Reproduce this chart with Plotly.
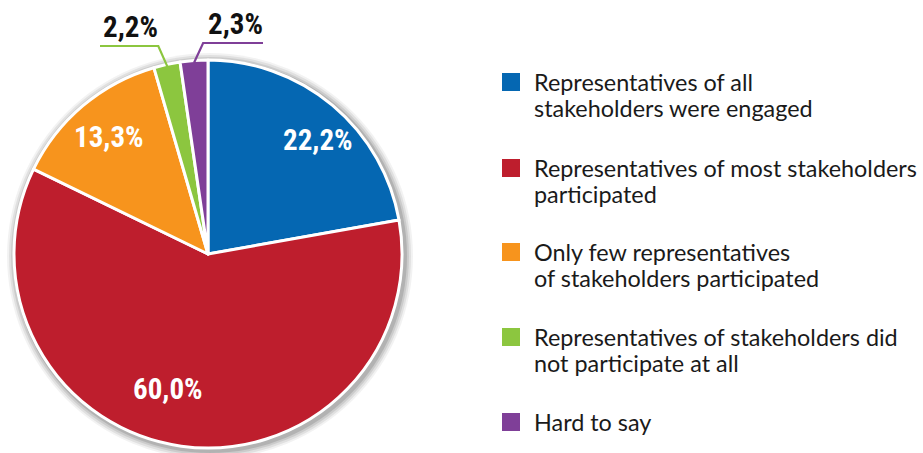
import math
import plotly.graph_objects as go

# Survey answers and their shares (%)
categories = [
    ["Representatives of all", "stakeholders were engaged"],
    ["Representatives of most stakeholders", "participated"],
    ["Only few representatives", "of stakeholders participated"],
    ["Representatives of stakeholders did", "not participate at all"],
    ["Hard to say"],
]
shares = [22.2, 60.0, 13.3, 2.2, 2.3]
colors = ["#0567B2", "#BE1E2D", "#F7941D", "#8CC63F", "#7F3F98"]

W, H = 923, 453
CX, CY, R = 208, 254, 194          # pie centre and radius in pixels


def px(x):
    return x / W


def py(y):
    return 1 - y / H


fig = go.Figure()

fig.add_trace(go.Pie(
    values=shares,
    labels=[" ".join(c) for c in categories],
    marker=dict(colors=colors, line=dict(color="white", width=3)),
    sort=False,
    direction="clockwise",
    rotation=0,
    textinfo="none",
    hoverinfo="label+percent",
    showlegend=False,
    domain=dict(x=[px(CX - R), px(CX + R)], y=[py(CY + R), py(CY - R)]),
))

# soft drop shadow around the pie
shapes = []
for grow, alpha in [(9, 0.05), (7, 0.07), (5, 0.09), (3, 0.12)]:
    shapes.append(dict(
        type="circle", xref="paper", yref="paper", layer="below",
        x0=px(CX - R - grow + 2), x1=px(CX + R + grow + 2),
        y0=py(CY + R + grow + 2), y1=py(CY - R - grow + 2),
        fillcolor=f"rgba(0,0,0,{alpha})", line=dict(width=0),
    ))

# cumulative mid-angles (degrees clockwise from 12 o'clock)
mids = []
acc = 0.0
for v in shares:
    mids.append((acc + v / 2) / 100 * 360)
    acc += v


def polar(angle_deg, dist):
    a = math.radians(angle_deg)
    return CX + dist * math.sin(a), CY - dist * math.cos(a)


def fmt(v):
    return f"{v:.1f}".replace(".", ",") + "%"


annotations = []
pct_font = "Liberation Sans Narrow, Arial Narrow, Roboto Condensed, sans-serif"
pct_size = 29

# labels inside the larger slices: (slice index, angle offset, radial distance)
inside = [(0, 4, 158), (1, 8.5, 141), (2, 0, 153)]
for idx, dang, dist in inside:
    x, y = polar(mids[idx] + dang, dist)
    annotations.append(dict(
        x=px(x), y=py(y), xref="paper", yref="paper", showarrow=False,
        text=f"<b>{fmt(shares[idx])}</b>", xanchor="center", yanchor="middle",
        font=dict(family=pct_font, size=pct_size, color="white"),
    ))

# small slices get outside labels with elbow leader lines
outside = [(3, -1, 46, 100, 130), (4, 1, 43, 263, 235)]
for idx, side, ely, endx, labx in outside:
    sx, sy = polar(mids[idx], R - 2)
    ex = sx + side * 9
    xs = [sx, ex, endx]
    ys = [sy, ely, ely]
    path = "M " + " L ".join(f"{px(a)},{py(b)}" for a, b in zip(xs, ys))
    shapes.append(dict(type="path", xref="paper", yref="paper", path=path,
                       line=dict(color=colors[idx], width=2.2)))
    annotations.append(dict(
        x=px(labx), y=py(ely - 19), xref="paper", yref="paper", showarrow=False,
        text=f"<b>{fmt(shares[idx])}</b>", xanchor="center", yanchor="middle",
        font=dict(family=pct_font, size=pct_size, color="#111111"),
    ))

# legend on the right: coloured squares with wrapped captions
legend_baselines = [90, 176, 260, 345, 430]
LINE_GAP = 26
for lines, col, base in zip(categories, colors, legend_baselines):
    shapes.append(dict(
        type="rect", xref="paper", yref="paper",
        x0=px(502), x1=px(520), y0=py(base + 1), y1=py(base - 17),
        fillcolor=col, line=dict(width=0),
    ))
    for k, line in enumerate(lines):
        annotations.append(dict(
            x=px(533), y=py(base + k * LINE_GAP - 8), xref="paper", yref="paper",
            showarrow=False, text=line, xanchor="left", yanchor="middle",
            align="left", borderpad=0,
            font=dict(family="Lato, Open Sans, sans-serif", size=23.4, color="#1a1a1a"),
        ))

fig.update_layout(
    width=W, height=H,
    margin=dict(l=0, r=0, t=0, b=0),
    paper_bgcolor="white", plot_bgcolor="white",
    shapes=shapes, annotations=annotations,
)

fig.write_html("out.html")
